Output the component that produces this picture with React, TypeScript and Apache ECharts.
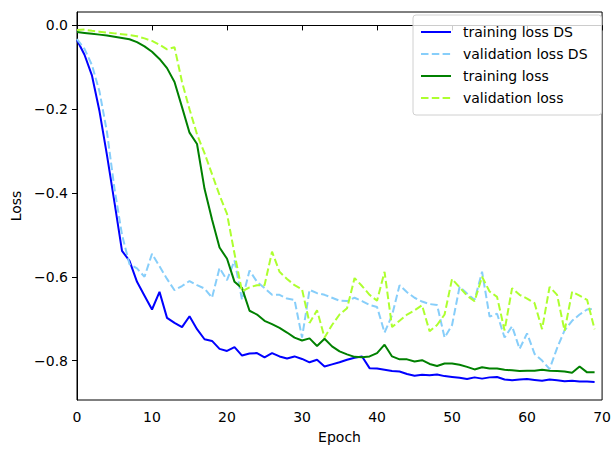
import React, { useEffect, useRef } from "react";
import * as echarts from "echarts";

const epochs: number[] = Array.from({ length: 70 }, (_, i) => i);

const trainingLossDS: number[] = [
  -0.035, -0.07, -0.12, -0.205, -0.31, -0.423, -0.538, -0.562, -0.612, -0.645,
  -0.678, -0.636, -0.698, -0.71, -0.72, -0.694, -0.725, -0.749, -0.753, -0.772,
  -0.777, -0.768, -0.788, -0.783, -0.782, -0.792, -0.782, -0.79, -0.795, -0.79,
  -0.796, -0.804, -0.798, -0.814, -0.809, -0.804, -0.798, -0.793, -0.79, -0.818,
  -0.819, -0.822, -0.825, -0.826, -0.832, -0.836, -0.834, -0.835, -0.833, -0.837,
  -0.839, -0.841, -0.844, -0.84, -0.843, -0.84, -0.839, -0.845, -0.847, -0.845,
  -0.844, -0.846, -0.848, -0.845, -0.847, -0.849, -0.848, -0.85, -0.85, -0.851,
];

const validationLossDS: number[] = [
  -0.033, -0.056, -0.095, -0.158, -0.255, -0.39, -0.5, -0.57, -0.58, -0.6,
  -0.545, -0.575, -0.605, -0.632, -0.622, -0.61, -0.62, -0.628, -0.65, -0.579,
  -0.608, -0.561, -0.655, -0.585, -0.612, -0.627, -0.643, -0.643, -0.652, -0.655,
  -0.745, -0.631, -0.639, -0.643, -0.65, -0.657, -0.658, -0.65, -0.658, -0.667,
  -0.672, -0.733, -0.692, -0.62, -0.637, -0.65, -0.659, -0.665, -0.667, -0.745,
  -0.715, -0.624, -0.64, -0.655, -0.588, -0.695, -0.688, -0.745, -0.718, -0.772,
  -0.735, -0.784, -0.8, -0.82, -0.77, -0.728, -0.705, -0.69, -0.678, -0.676,
];

const trainingLoss: number[] = [
  -0.016, -0.018, -0.02, -0.022, -0.024, -0.027, -0.03, -0.033, -0.04, -0.05,
  -0.063, -0.08, -0.102, -0.135, -0.195, -0.256, -0.283, -0.39, -0.463, -0.53,
  -0.557, -0.612, -0.627, -0.681, -0.69, -0.705, -0.713, -0.722, -0.733, -0.745,
  -0.752, -0.747, -0.765, -0.748, -0.766, -0.778, -0.785, -0.791, -0.792, -0.79,
  -0.782, -0.762, -0.79, -0.797, -0.797, -0.802, -0.799, -0.808, -0.813, -0.807,
  -0.807, -0.81, -0.815, -0.821, -0.816, -0.819, -0.819, -0.822, -0.823, -0.825,
  -0.824, -0.824, -0.822, -0.824, -0.825, -0.826, -0.829, -0.814, -0.828, -0.828,
];

const validationLoss: number[] = [
  -0.011, -0.01, -0.013, -0.015, -0.017, -0.019, -0.021, -0.023, -0.026, -0.031,
  -0.037, -0.046, -0.057, -0.052, -0.135, -0.2, -0.26, -0.305, -0.355, -0.405,
  -0.45, -0.545, -0.635, -0.625, -0.62, -0.62, -0.54, -0.588, -0.605, -0.62,
  -0.63, -0.71, -0.68, -0.745, -0.715, -0.69, -0.675, -0.603, -0.622, -0.643,
  -0.657, -0.588, -0.72, -0.705, -0.69, -0.68, -0.668, -0.73, -0.715, -0.69,
  -0.605, -0.625, -0.645, -0.658, -0.6, -0.635, -0.648, -0.728, -0.627, -0.643,
  -0.652, -0.663, -0.725, -0.624, -0.643, -0.729, -0.636, -0.645, -0.655, -0.725,
];

const seriesNames = ["training loss DS", "validation loss DS", "training loss", "validation loss"];
const seriesColors = ["#0000ff", "#87cefa", "#008000", "#adff2f"];
const seriesDashed = [false, true, false, true];
const seriesValues = [trainingLossDS, validationLossDS, trainingLoss, validationLoss];

const FONT = "DejaVu Sans";

export default function App() {
  const ref = useRef<HTMLDivElement>(null);
  useEffect(() => {
    if (!ref.current) return;
    const chart = echarts.init(ref.current, undefined, { renderer: "svg" });
    const fmtY = (v: number) => {
      const s = (Math.abs(v) < 1e-9 ? 0 : v).toFixed(1);
      return s.replace("-", "\u2212");
    };
    chart.setOption({
      animation: false,
      backgroundColor: "#ffffff",
      grid: {
        left: 77,
        right: 8,
        top: 12,
        bottom: 42,
        show: true,
        borderColor: "#000",
        borderWidth: 1,
        backgroundColor: "transparent",
      },
      legend: {
        orient: "vertical",
        left: 413,
        top: 15,
        padding: [10, 14, 10, 7],
        itemWidth: 30,
        itemHeight: 14,
        itemGap: 8,
        borderColor: "#d0d0d0",
        borderWidth: 1,
        borderRadius: 3,
        backgroundColor: "rgba(255,255,255,0.8)",
        itemStyle: { opacity: 0 },
        textStyle: { fontFamily: FONT, fontSize: 14, color: "#000", padding: [0, 0, 0, 7] },
        data: seriesNames,
      },
      xAxis: {
        type: "value",
        min: 0,
        max: 70,
        interval: 10,
        name: "Epoch",
        nameLocation: "middle",
        nameGap: 30,
        nameTextStyle: { fontFamily: FONT, fontSize: 14, color: "#000" },
        axisLine: { show: true, lineStyle: { color: "#000", width: 1 } },
        axisTick: { show: true, length: 5, lineStyle: { color: "#000" } },
        axisLabel: { fontFamily: FONT, fontSize: 14, color: "#000", margin: 10 },
        splitLine: { show: false },
      },
      yAxis: {
        type: "value",
        min: -0.894,
        max: 0.032,
        splitNumber: 5,
        name: "Loss",
        nameLocation: "middle",
        nameGap: 53,
        nameTextStyle: { fontFamily: FONT, fontSize: 14, color: "#000" },
        axisLine: { show: true, lineStyle: { color: "#000", width: 1 } },
        axisTick: { show: true, length: 5, lineStyle: { color: "#000" } },
        axisLabel: {
          fontFamily: FONT,
          fontSize: 14,
          color: "#000",
          margin: 9,
          showMinLabel: false,
          showMaxLabel: false,
          formatter: fmtY,
        },
        splitLine: { show: false },
      },
      series: seriesNames.map((name, k) => ({
        name,
        type: "line",
        data: epochs.map((e, i) => [e, seriesValues[k][i]]),
        showSymbol: false,
        symbol: "none",
        color: seriesColors[k],
        lineStyle: {
          color: seriesColors[k],
          width: 2,
          type: seriesDashed[k] ? [7.5, 3.3] : "solid",
        },
      })),
    });
    return () => chart.dispose();
  }, []);
  return (
    <div
      ref={ref}
      style={{ position: "fixed", left: 0, top: 0, width: 614, height: 449, background: "#fff" }}
    />
  );
}
